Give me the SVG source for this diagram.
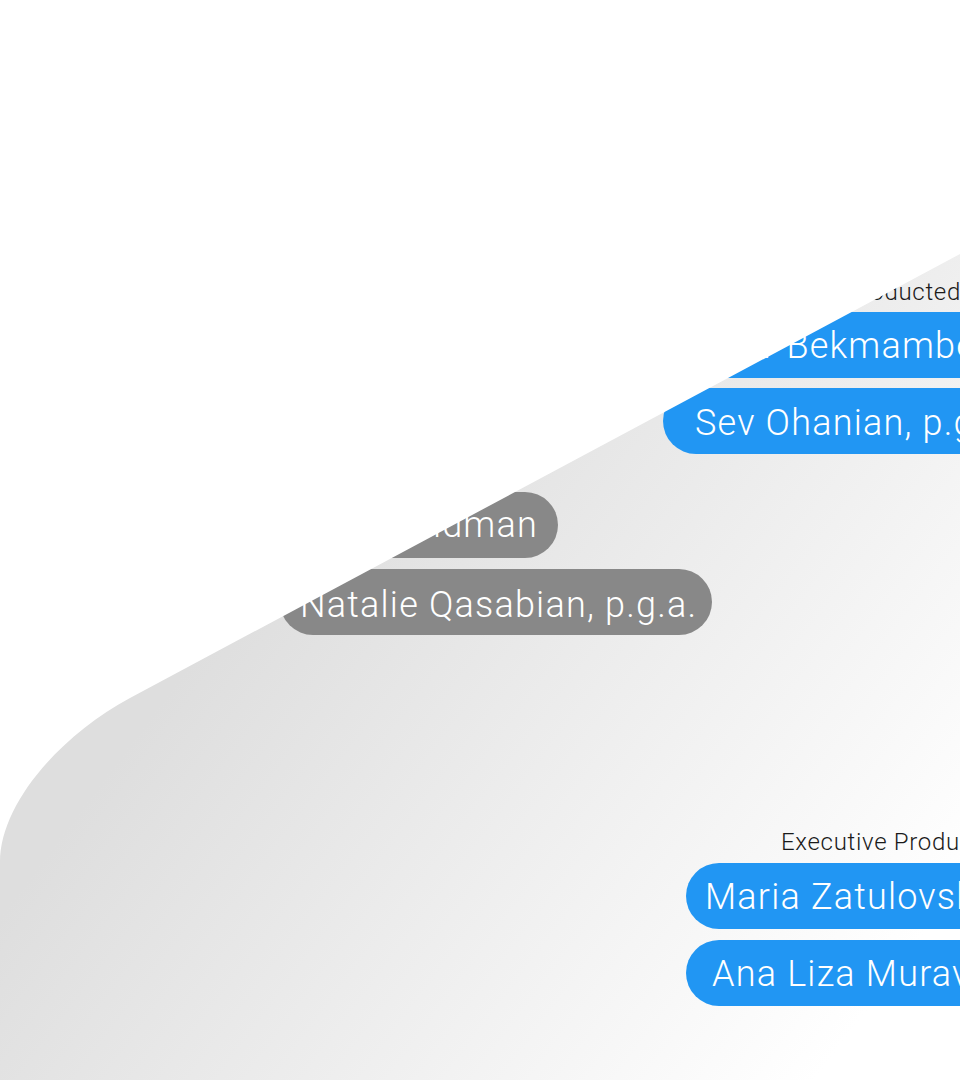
<svg xmlns="http://www.w3.org/2000/svg" width="960" height="1080" viewBox="0 0 960 1080">
<defs>
<linearGradient id="bg" gradientUnits="userSpaceOnUse" x1="200" y1="650" x2="800" y2="1100">
<stop offset="0" stop-color="#dedede"/>
<stop offset="1" stop-color="#ffffff"/>
</linearGradient>
<style>
.blue{fill:#2196f3}
.gray{fill:#888888}
.name{font-family:Roboto,"Liberation Sans",sans-serif;font-weight:300;font-size:36px;letter-spacing:1.2px;fill:#ffffff}
.label{font-family:Roboto,"Liberation Sans",sans-serif;font-weight:300;font-size:24px;letter-spacing:0.7px;fill:#1a1a1a}
</style>
</defs>
<rect x="0" y="0" width="960" height="1080" fill="url(#bg)"/>
<g id="label-produced">
<text class="label" x="961" y="300" text-anchor="end">Producted</text>
</g>
<g id="bubble-bekmambetov">
<rect class="blue" x="667" y="312" width="400" height="66" rx="33"/>
<text class="name" x="677" y="358">Timur Bekmambetov</text>
</g>
<g id="bubble-ohanian">
<rect class="blue" x="663" y="388" width="400" height="66" rx="33"/>
<text class="name" x="695" y="435">Sev Ohanian, p.g.a.</text>
</g>
<g id="bubble-sidman">
<rect class="gray" x="300" y="492" width="258" height="66" rx="33"/>
<text class="name" x="538" y="537" text-anchor="end">Adam Sidman</text>
</g>
<g id="bubble-qasabian">
<rect class="gray" x="280" y="569" width="432" height="66" rx="33"/>
<text class="name" x="300" y="617">Natalie Qasabian, p.g.a.</text>
</g>
<g id="label-executive">
<text class="label" x="781" y="850">Executive Producers</text>
</g>
<g id="bubble-zatulovskaya">
<rect class="blue" x="686" y="863" width="400" height="66" rx="33"/>
<text class="name" x="705" y="909">Maria Zatulovskaya</text>
</g>
<g id="bubble-muravina">
<rect class="blue" x="686" y="940" width="400" height="66" rx="33"/>
<text class="name" x="712" y="986">Ana Liza Muravina</text>
</g>
<path id="white-overlay" d="M0 0 L960 0 L960 254 L130 698 C58 737 0 805 0 862 Z" fill="#ffffff"/>
</svg>
